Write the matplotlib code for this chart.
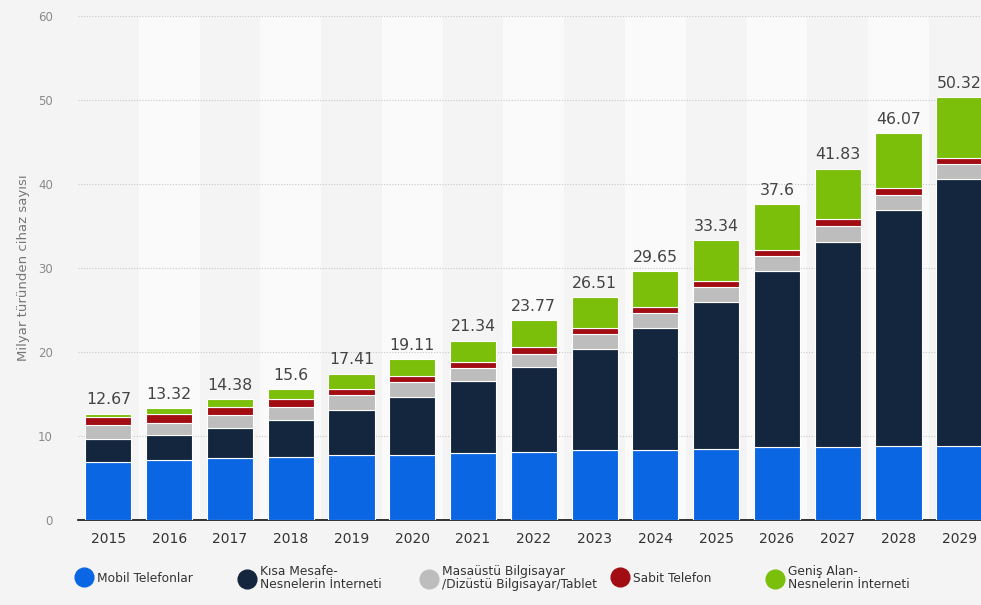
import matplotlib
matplotlib.use("Agg")
import matplotlib.pyplot as plt
from matplotlib.lines import Line2D
import numpy as np

years = [str(y) for y in range(2015, 2030)]
totals = [12.67, 13.32, 14.38, 15.6, 17.41, 19.11, 21.34, 23.77, 26.51, 29.65,
          33.34, 37.6, 41.83, 46.07, 50.32]

mobil = [6.94, 7.2, 7.35, 7.55, 7.7, 7.75, 8.0, 8.15, 8.3, 8.35, 8.5, 8.7, 8.75, 8.85, 8.85]
kisa = [2.66, 2.9, 3.55, 4.3, 5.45, 6.95, 8.55, 10.1, 12.05, 14.55, 17.5, 20.9, 24.4, 28.0, 31.7]
masaustu = [1.71, 1.5, 1.6, 1.65, 1.7, 1.7, 1.55, 1.5, 1.75, 1.7, 1.7, 1.8, 1.9, 1.85, 1.8]
sabit = [0.99, 1.0, 0.95, 0.9, 0.8, 0.8, 0.75, 0.8, 0.8, 0.8, 0.75, 0.7, 0.8, 0.85, 0.8]
genis = [0.37, 0.72, 0.93, 1.2, 1.76, 1.91, 2.49, 3.22, 3.61, 4.25, 4.89, 5.5, 5.98, 6.52, 7.17]

series = [mobil, kisa, masaustu, sabit, genis]
labels = ["Mobil Telefonlar", "Kısa Mesafe-\nNesnelerin İnterneti",
          "Masaüstü Bilgisayar\n/Dizüstü Bilgisayar/Tablet", "Sabit Telefon",
          "Geniş Alan-\nNesnelerin İnterneti"]
colors = ["#0b66e3", "#13263d", "#bdbdbd", "#a10d12", "#7bbf0a"]

bg = "#f4f4f4"
fig = plt.figure(figsize=(9.81, 6.05), dpi=100, facecolor=bg)
ax = fig.add_axes([0.0795, 0.1405, 0.925, 0.833])
ax.set_facecolor(bg)

x = np.arange(len(years))
for i in x:
    if i % 2 == 1:
        ax.axvspan(i - 0.5, i + 0.5, color="#fafafa", zorder=0, lw=0)

bottom = np.zeros(len(years))
for vals, col in zip(series, colors):
    ax.bar(x, vals, 0.76, bottom=bottom, color=col, edgecolor="white",
           linewidth=0.8, zorder=3)
    bottom += np.array(vals)

for xi, t, top in zip(x, totals, bottom):
    ax.text(xi, top + 0.75, f"{t:g}", ha="center", va="bottom",
            fontsize=11.3, color="#444444", zorder=4)

ax.set_xlim(-0.5, 14.43)
ax.set_ylim(0, 60)
ax.set_yticks(range(0, 61, 10))
ax.yaxis.grid(True, linestyle=(0, (1, 1.5)), color="#c8c8c8", linewidth=0.8, zorder=1)
ax.set_axisbelow(True)
ax.set_xticks(x)
ax.set_xticklabels(years, fontsize=10, color="#333333")
ax.tick_params(axis="x", length=0, pad=9)
ax.tick_params(axis="y", length=0, pad=18, labelsize=8.5, labelcolor="#8a8a8a")
for s in ["top", "right", "left"]:
    ax.spines[s].set_visible(False)
ax.spines["bottom"].set_color("#111111")
ax.spines["bottom"].set_linewidth(1.2)
ax.set_ylabel("Milyar türünden cihaz sayısı", fontsize=9.5, color="#777777", labelpad=6)

# legend, one entry at a time so the spacing follows the original
leg_x = [71, 234, 416, 607, 762]
for lx, lab, col in zip(leg_x, labels, colors):
    h = Line2D([], [], marker="o", linestyle="", markersize=13.5, color=col)
    leg = fig.legend([h], [lab], loc="center left",
                     bbox_to_anchor=(lx / 981, 1 - 578 / 605), frameon=False,
                     handletextpad=0.4, borderpad=0, handlelength=1.2,
                     fontsize=8.8, labelspacing=0)
    for t in leg.get_texts():
        t.set_color("#333333")
        t.set_linespacing(1.0)

fig.savefig("out.png", dpi=100, facecolor=bg)
